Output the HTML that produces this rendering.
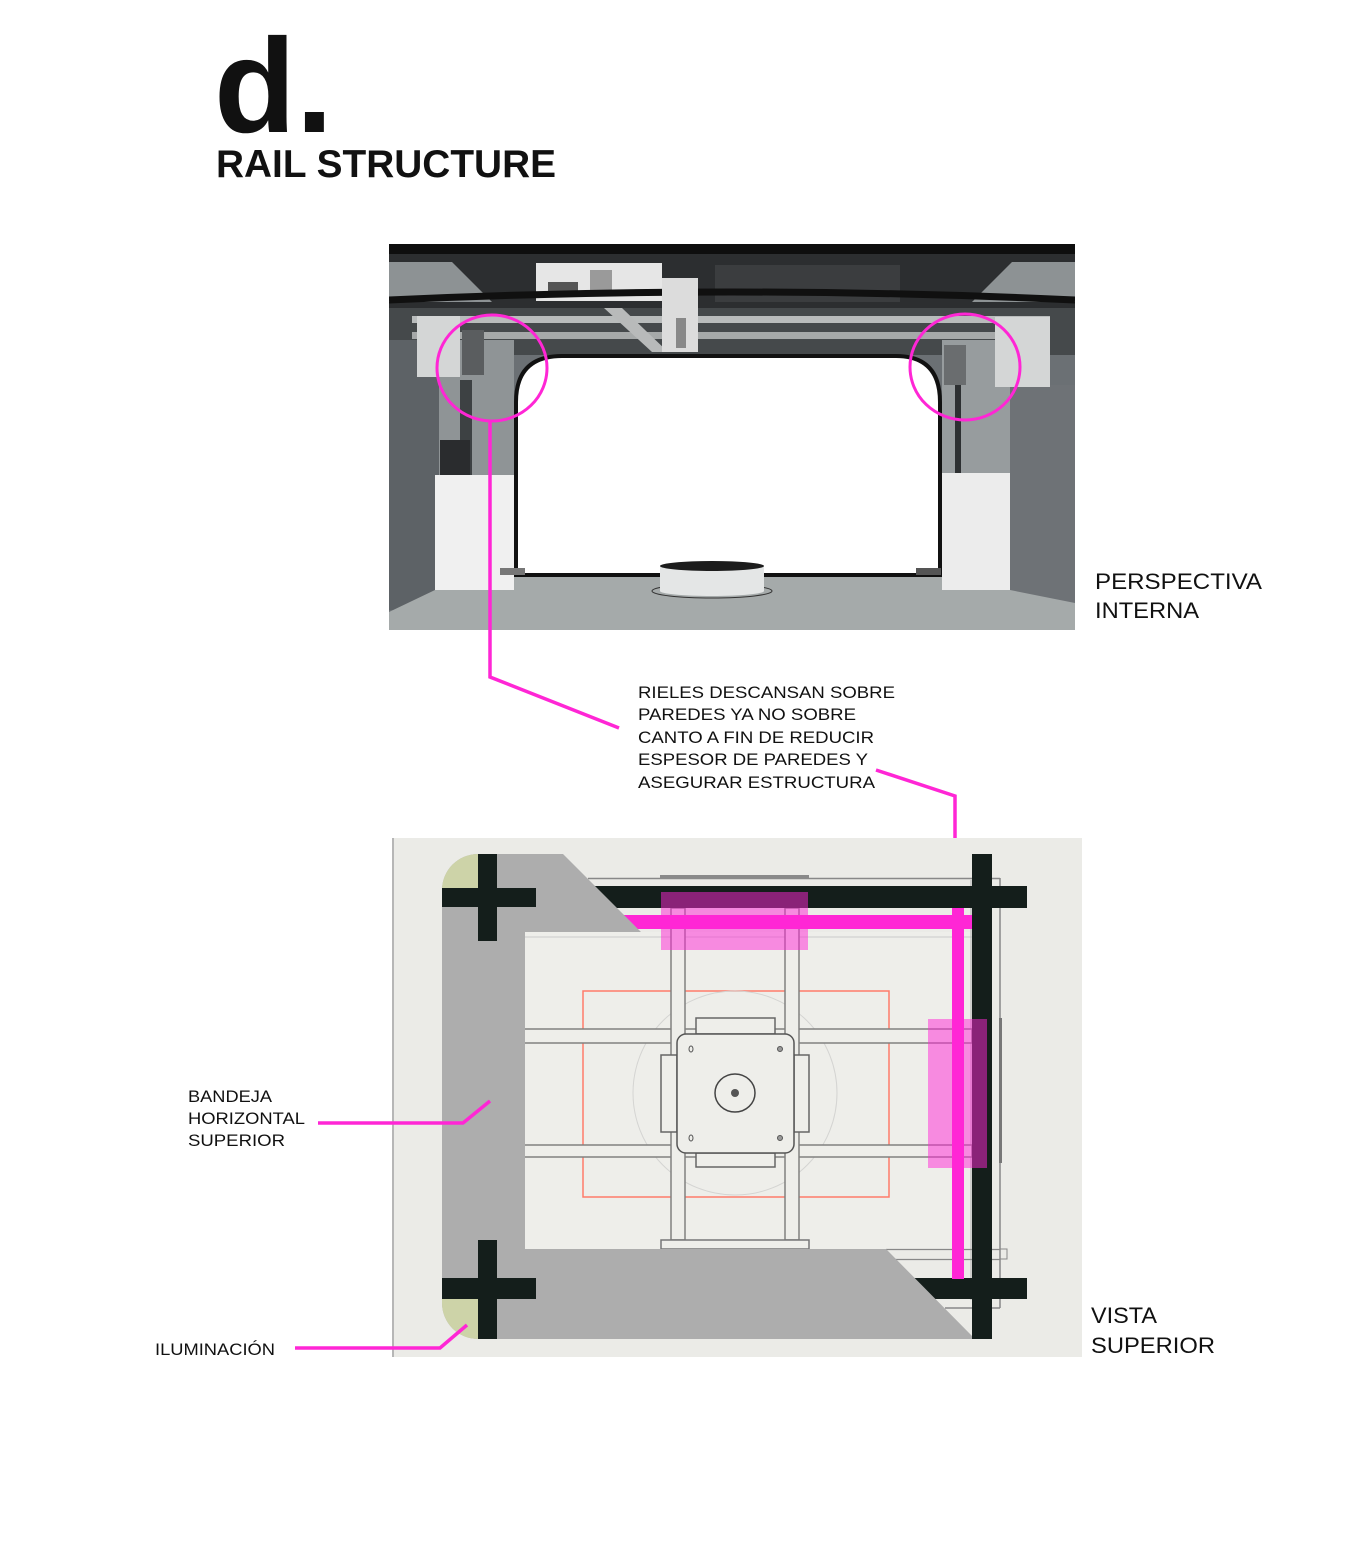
<!DOCTYPE html>
<html>
<head>
<meta charset="utf-8">
<style>
  html,body{margin:0;padding:0;background:#ffffff;}
  svg{display:block;}
  text{font-family:"Liberation Sans",Arial,sans-serif;fill:#111;}
</style>
</head>
<body>
<svg width="1358" height="1542" viewBox="0 0 1358 1542" xmlns="http://www.w3.org/2000/svg">
  <defs>
    <clipPath id="pc"><rect x="389" y="244" width="686" height="386"/></clipPath>
  </defs>

  <!-- Title -->
  <text x="214" y="132" font-size="134" font-weight="bold" fill="#000">d.</text>
  <text x="216" y="177" font-size="39" font-weight="bold" fill="#000" textLength="340" lengthAdjust="spacingAndGlyphs">RAIL STRUCTURE</text>

  <!-- ===== Photo ===== -->
  <g clip-path="url(#pc)">
    <rect x="389" y="244" width="686" height="386" fill="#6b7074"/>
    <rect x="389" y="244" width="686" height="70" fill="#2c2e30"/>
    <rect x="389" y="244" width="686" height="10" fill="#0e0e0e"/>
    <polygon points="389,262 452,262 492,302 389,302" fill="#8d9294"/>
    <polygon points="1075,262 1012,262 972,302 1075,302" fill="#8d9294"/>
    <rect x="536" y="263" width="126" height="38" fill="#e6e6e6"/>
    <rect x="548" y="282" width="30" height="12" fill="#555"/>
    <rect x="590" y="270" width="22" height="22" fill="#9a9a9a"/>
    <rect x="715" y="265" width="185" height="37" fill="#3b3d3f"/>
    <path d="M389 300 Q732 284 1075 300" stroke="#101010" stroke-width="7" fill="none"/>
    <rect x="389" y="308" width="686" height="47" fill="#45494b"/>
    <rect x="412" y="316" width="638" height="7" fill="#b9bcbc"/>
    <rect x="412" y="332" width="638" height="7" fill="#a6a9a9"/>
    <polygon points="604,308 622,308 668,352 652,352" fill="#b8baba"/>
    <rect x="662" y="278" width="36" height="74" fill="#dcdcdc"/>
    <rect x="676" y="318" width="10" height="30" fill="#888"/>
    <!-- walls -->
    <rect x="389" y="340" width="50" height="270" fill="#5d6266"/>
    <rect x="1010" y="385" width="65" height="225" fill="#6e7276"/>
    <!-- side panels -->
    <rect x="439" y="340" width="75" height="137" fill="#8f9496"/>
    <rect x="942" y="340" width="68" height="135" fill="#979c9e"/>
    <rect x="460" y="380" width="12" height="95" fill="#3d4143"/>
    <rect x="955" y="385" width="6" height="90" fill="#2d3032"/>
    <rect x="440" y="440" width="30" height="35" fill="#2a2c2e"/>
    <!-- corner blocks -->
    <rect x="417" y="316" width="43" height="61" fill="#d4d6d6"/>
    <rect x="995" y="317" width="55" height="70" fill="#d4d6d6"/>
    <rect x="462" y="330" width="22" height="45" fill="#5a5d5f"/>
    <rect x="944" y="345" width="22" height="40" fill="#6a6d6f"/>
    <!-- white blocks -->
    <rect x="435" y="475" width="79" height="115" fill="#f0f0f0"/>
    <rect x="941" y="473" width="69" height="117" fill="#ececec"/>
    <!-- floor -->
    <polygon points="389,612 435,590 514,590 514,573 942,573 942,590 1010,590 1075,603 1075,630 389,630" fill="#a5aaaa"/>
    <!-- opening -->
    <path d="M516 575 L516 402 Q516 356 562 356 L896 356 Q940 356 940 402 L940 575 Z" fill="#ffffff" stroke="#111" stroke-width="4"/>
    <rect x="500" y="568" width="25" height="7" fill="#777"/>
    <rect x="916" y="568" width="25" height="7" fill="#555"/>
    <!-- cylinder -->
    <ellipse cx="712" cy="591" rx="60" ry="7" fill="none" stroke="#333" stroke-width="1"/>
    <rect x="660" y="566" width="104" height="25" fill="#e4e6e6"/>
    <ellipse cx="712" cy="591" rx="52" ry="5" fill="#e4e6e6"/>
    <ellipse cx="712" cy="566" rx="52" ry="5" fill="#1c1c1c"/>
  </g>
  <!-- photo circles -->
  <ellipse cx="492" cy="368" rx="55" ry="53" fill="none" stroke="#ff26d5" stroke-width="3"/>
  <ellipse cx="965" cy="367" rx="55" ry="53" fill="none" stroke="#ff26d5" stroke-width="3"/>

  <!-- labels -->
  <text x="1095" y="589" font-size="22" textLength="167" lengthAdjust="spacingAndGlyphs">PERSPECTIVA</text>
  <text x="1095" y="618" font-size="22" textLength="104" lengthAdjust="spacingAndGlyphs">INTERNA</text>

  <!-- annotation -->
  <text x="638" y="698" font-size="17" textLength="257" lengthAdjust="spacingAndGlyphs">RIELES DESCANSAN SOBRE</text>
  <text x="638" y="720" font-size="17" textLength="218" lengthAdjust="spacingAndGlyphs">PAREDES YA NO SOBRE</text>
  <text x="638" y="743" font-size="17" textLength="236" lengthAdjust="spacingAndGlyphs">CANTO A FIN DE REDUCIR</text>
  <text x="638" y="765" font-size="17" textLength="230" lengthAdjust="spacingAndGlyphs">ESPESOR DE PAREDES Y</text>
  <text x="638" y="788" font-size="17" textLength="237" lengthAdjust="spacingAndGlyphs">ASEGURAR ESTRUCTURA</text>

  <!-- connectors -->
  <polyline points="490,421 490,677 619,728" fill="none" stroke="#ff26d5" stroke-width="3.5"/>
  <polyline points="876,770 955,796 955,863" fill="none" stroke="#ff26d5" stroke-width="3.5"/>

  <!-- ===== Top view ===== -->
  <rect x="392" y="838" width="690" height="519" fill="#ebebe7"/>
  <line x1="393" y1="838" x2="393" y2="1357" stroke="#a5a5a5" stroke-width="1.5"/>
  <rect x="524" y="932" width="448" height="317" fill="#eeeeea"/>
  <line x1="524" y1="937" x2="972" y2="937" stroke="#d6d6d4" stroke-width="1.5"/>

  <!-- outer frame lines -->
  <line x1="588" y1="878.5" x2="1000" y2="878.5" stroke="#888" stroke-width="1.5"/>
  <line x1="1000" y1="878" x2="1000" y2="1308" stroke="#888" stroke-width="1.5"/>
  <line x1="945" y1="1308" x2="1000" y2="1308" stroke="#888" stroke-width="1.5"/>
  <line x1="971" y1="880" x2="971" y2="1300" stroke="#b0b0b0" stroke-width="1"/>
  <rect x="660" y="875" width="149" height="4" fill="#8a8a8a"/>
  <rect x="999" y="1018" width="3" height="145" fill="#777"/>
  <line x1="886" y1="1249.5" x2="1000" y2="1249.5" stroke="#888" stroke-width="1.2"/>
  <line x1="886" y1="1259.5" x2="1000" y2="1259.5" stroke="#888" stroke-width="1.2"/>
  <rect x="1000" y="1249" width="7" height="10" fill="none" stroke="#888" stroke-width="1"/>

  <!-- red rect -->
  <rect x="583" y="991" width="306" height="206" fill="none" stroke="#ff7b6b" stroke-width="1.5"/>
  <!-- faint circle -->
  <circle cx="735" cy="1093" r="102" fill="none" stroke="#d4d4d2" stroke-width="1"/>

  <!-- horizontal bars -->
  <rect x="524" y="1029" width="448" height="14" fill="#eeeeea" stroke="#808080" stroke-width="1.5"/>
  <rect x="524" y="1145" width="448" height="12" fill="#eeeeea" stroke="#808080" stroke-width="1.5"/>
  <!-- vertical struts -->
  <rect x="671" y="908" width="14" height="332" fill="#eeeeea" stroke="#808080" stroke-width="1.5"/>
  <rect x="785" y="908" width="14" height="332" fill="#eeeeea" stroke="#808080" stroke-width="1.5"/>
  <rect x="661" y="1240" width="148" height="9" fill="#eeeeea" stroke="#777" stroke-width="1.5"/>

  <!-- motor plate -->
  <rect x="696" y="1018" width="79" height="16" fill="#eeeeea" stroke="#666" stroke-width="1.5"/>
  <rect x="696" y="1153" width="79" height="14" fill="#eeeeea" stroke="#666" stroke-width="1.5"/>
  <rect x="661" y="1055" width="16" height="77" fill="#eeeeea" stroke="#666" stroke-width="1.5"/>
  <rect x="794" y="1055" width="15" height="77" fill="#eeeeea" stroke="#666" stroke-width="1.5"/>
  <rect x="677" y="1034" width="117" height="119" rx="9" ry="9" fill="#eeeeea" stroke="#555" stroke-width="1.5"/>
  <ellipse cx="691" cy="1049" rx="2" ry="3" fill="none" stroke="#555" stroke-width="1"/>
  <circle cx="780" cy="1049" r="2.5" fill="#999" stroke="#555" stroke-width="1"/>
  <ellipse cx="691" cy="1138" rx="2" ry="3" fill="none" stroke="#555" stroke-width="1"/>
  <circle cx="780" cy="1138" r="2.5" fill="#999" stroke="#555" stroke-width="1"/>
  <ellipse cx="735" cy="1093" rx="20" ry="19" fill="none" stroke="#444" stroke-width="1.5"/>
  <circle cx="735" cy="1093" r="4" fill="#555"/>

  <!-- black rails under gray -->
  <rect x="560" y="886" width="467" height="22" fill="#141e1b"/>
  <rect x="880" y="1278" width="147" height="21" fill="#141e1b"/>
  <!-- magenta rails -->
  <rect x="600" y="915" width="374" height="14" fill="#ff26d5"/>
  <rect x="952" y="908" width="12" height="371" fill="#ff26d5"/>

  <!-- gray tray -->
  <path d="M442 890 A36 36 0 0 1 478 854 L563 854 L641 932 L525 932 L525 1249 L886 1249 L975 1339 L478 1339 A36 36 0 0 1 442 1303 Z" fill="#adadad"/>
  <!-- olive lights -->
  <path d="M442 890 A36 36 0 0 1 478 854 L478 890 Z" fill="#cdd3a8"/>
  <path d="M442 1299 L478 1299 L478 1339 A36 36 0 0 1 442 1303 Z" fill="#cdd3a8"/>

  <!-- crosses -->
  <rect x="478" y="854" width="19" height="87" fill="#141e1b"/>
  <rect x="442" y="888" width="94" height="19" fill="#141e1b"/>
  <rect x="478" y="1240" width="19" height="99" fill="#141e1b"/>
  <rect x="442" y="1278" width="94" height="21" fill="#141e1b"/>
  <rect x="972" y="854" width="20" height="485" fill="#141e1b"/>

  <!-- translucent pink -->
  <rect x="661" y="892" width="147" height="58" fill="rgba(255,38,213,0.5)"/>
  <rect x="928" y="1019" width="59" height="149" fill="rgba(255,38,213,0.5)"/>

  <!-- left labels -->
  <text x="188" y="1102" font-size="17" textLength="84" lengthAdjust="spacingAndGlyphs">BANDEJA</text>
  <text x="188" y="1124" font-size="17" textLength="117" lengthAdjust="spacingAndGlyphs">HORIZONTAL</text>
  <text x="188" y="1146" font-size="17" textLength="97" lengthAdjust="spacingAndGlyphs">SUPERIOR</text>
  <polyline points="318,1123 463,1123 490,1101" fill="none" stroke="#ff26d5" stroke-width="3.5"/>

  <text x="155" y="1355" font-size="17" textLength="120" lengthAdjust="spacingAndGlyphs">ILUMINACIÓN</text>
  <polyline points="295,1348 440,1348 467,1325" fill="none" stroke="#ff26d5" stroke-width="3.5"/>

  <text x="1091" y="1323" font-size="22" textLength="66" lengthAdjust="spacingAndGlyphs">VISTA</text>
  <text x="1091" y="1353" font-size="22" textLength="124" lengthAdjust="spacingAndGlyphs">SUPERIOR</text>
</svg>
</body>
</html>
